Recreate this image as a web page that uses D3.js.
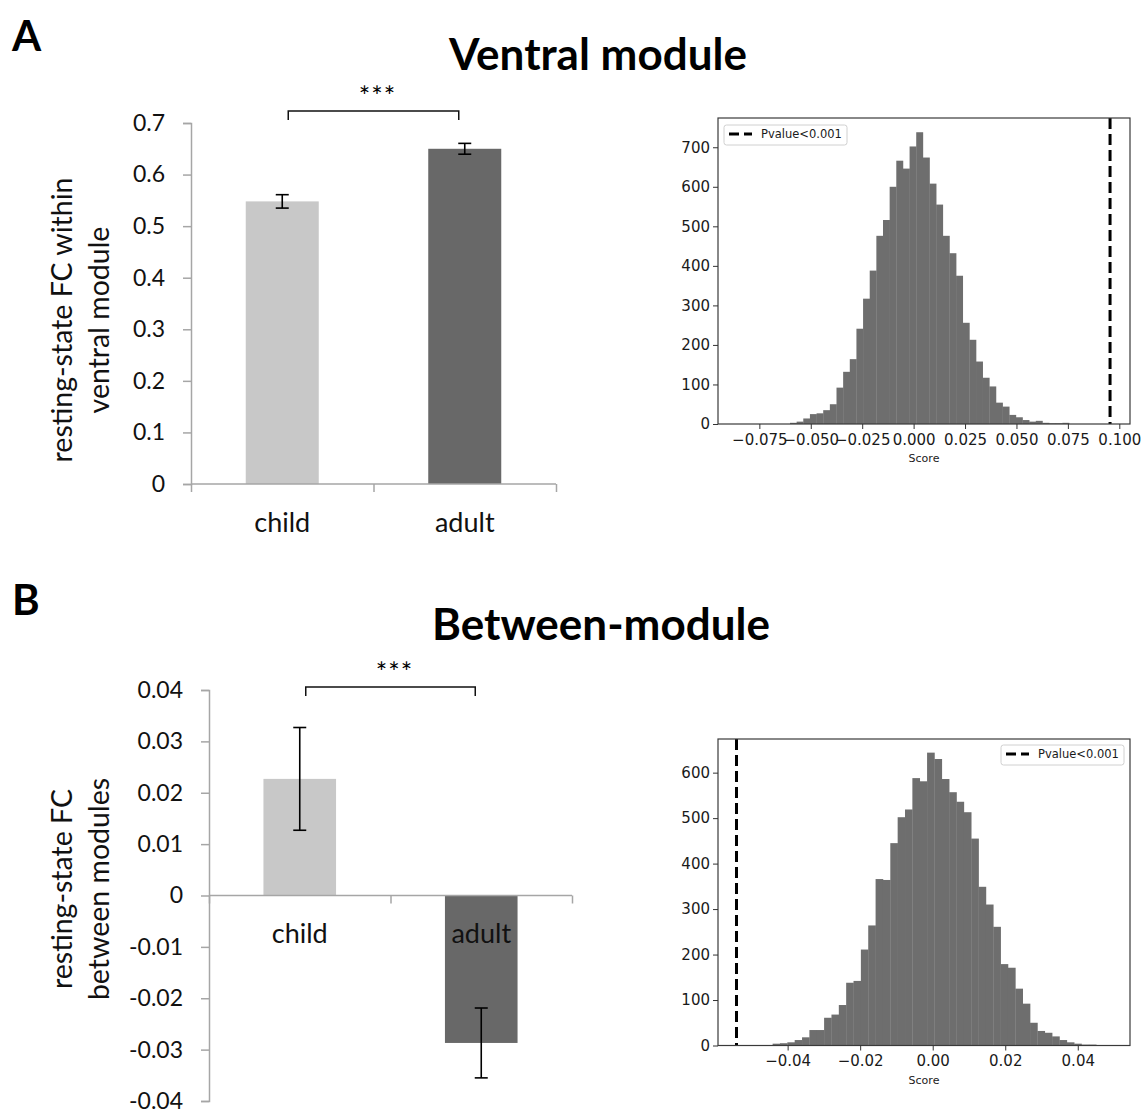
<!DOCTYPE html>
<html>
<head>
<meta charset="utf-8">
<script src="https://cdn.jsdelivr.net/npm/d3@7"></script>
<style>
  body { margin: 0; background: #fff; }
  svg { display: block; }
</style>
</head>
<body>
<script>
'use strict';

// ---- group means (bar charts) ----
const groups = ["child", "adult"];
const ventralMean = [0.548, 0.650];
const ventralErr = [0.013, 0.0105];
const ventralTicks = [0, 0.1, 0.2, 0.3, 0.4, 0.5, 0.6, 0.7];

const betweenMean = [0.0227, -0.0287];
const betweenErr = [0.0100, 0.0068];
const betweenTicks = [-0.04, -0.03, -0.02, -0.01, 0, 0.01, 0.02, 0.03, 0.04];

// ---- permutation histograms (counts per bin) ----
const ventralCounts = [3, 6, 14, 25, 27, 35, 50, 92, 132, 164, 241, 317, 388, 476, 516, 600,
  666, 646, 702, 738, 674, 608, 555, 476, 432, 375, 256, 213, 158, 117, 95, 54, 44, 23, 17,
  10, 6, 8, 3, 2, 2, 3];
const ventralBinStart = -0.0601;
const ventralBinWidth = 0.00323;
const ventralObserved = 0.0955;
const ventralScoreTicks = [-0.075, -0.05, -0.025, 0, 0.025, 0.05, 0.075, 0.1];
const ventralCountTicks = [0, 100, 200, 300, 400, 500, 600, 700];

const betweenCounts = [4, 5, 7, 12, 18, 34, 34, 61, 68, 89, 138, 142, 211, 264, 366, 364,
  445, 502, 519, 588, 581, 644, 630, 586, 557, 536, 513, 455, 349, 310, 261, 179, 171, 125,
  92, 50, 32, 28, 20, 12, 7, 4, 2, 2];
const betweenBinStart = -0.04414;
const betweenBinWidth = 0.002028;
const betweenObserved = -0.0541;
const betweenScoreTicks = [-0.04, -0.02, 0, 0.02, 0.04];
const betweenCountTicks = [0, 100, 200, 300, 400, 500, 600];

const W = 1146, H = 1115;
const svg = d3.select("body").append("svg")
    .attr("width", W)
    .attr("height", H);

const barFont = "Lato, 'Open Sans', sans-serif";
const mplFont = "'DejaVu Sans', sans-serif";
const barColors = ["#c8c8c8", "#686868"];
const axisGray = "#a6a6a6";

// panel letters and titles
svg.append("text").attr("x", 12).attr("y", 51)
    .style("font", "bold 42px " + barFont).text("A");
svg.append("text").attr("x", 598).attr("y", 70).attr("text-anchor", "middle")
    .style("font", "bold 44px " + barFont).text("Ventral module");
svg.append("text").attr("x", 12).attr("y", 615)
    .style("font", "bold 42px " + barFont).text("B");
svg.append("text").attr("x", 601).attr("y", 640).attr("text-anchor", "middle")
    .style("font", "bold 44px " + barFont).text("Between-module");

function excelFmt(digits) {
  return (d) => d === 0 ? "0" : (d < 0 ? "-" : "") + Math.abs(d).toFixed(digits);
}

function barChart(o) {
  const g = svg.append("g");
  const y = d3.scaleLinear().domain(o.domain).range([o.bottom, o.top]);
  const x = d3.scaleBand().domain(groups).range([o.left, o.right])
      .paddingInner(0.6).paddingOuter(0.3);
  const slot = d3.scaleLinear().domain([0, groups.length]).range([o.left, o.right]);

  // y axis
  const ya = g.append("g").attr("transform", `translate(${o.left},0)`)
      .call(d3.axisLeft(y).tickValues(o.ticks).tickSize(8).tickPadding(18)
        .tickFormat(excelFmt(o.digits)));
  ya.selectAll("path, line").attr("stroke", axisGray).attr("stroke-width", 1.5);
  ya.selectAll("text").style("font", "23px " + barFont).attr("fill", "#111");

  // bars
  g.selectAll("rect.bar").data(o.means).join("rect")
      .attr("class", "bar")
      .attr("x", (d, i) => x(groups[i]))
      .attr("width", x.bandwidth())
      .attr("y", (d) => y(Math.max(0, d)))
      .attr("height", (d) => Math.abs(y(d) - y(0)))
      .attr("fill", (d, i) => barColors[i]);

  // x axis at zero
  const xa = g.append("g").attr("transform", `translate(0,${y(0)})`)
      .call(d3.axisBottom(slot).tickValues([0, 1, 2]).tickSize(8).tickFormat(""));
  xa.selectAll("path, line").attr("stroke", axisGray).attr("stroke-width", 1.5);
  xa.select(".domain").attr("d", `M${o.left},0H${o.right}`);

  // error bars
  const eb = g.selectAll("g.err").data(o.means).join("g").attr("class", "err");
  const cx = (i) => x(groups[i]) + x.bandwidth() / 2;
  eb.append("line")
      .attr("x1", (d, i) => cx(i)).attr("x2", (d, i) => cx(i))
      .attr("y1", (d, i) => y(d + o.errs[i])).attr("y2", (d, i) => y(d - o.errs[i]));
  eb.append("line")
      .attr("x1", (d, i) => cx(i) - 6.5).attr("x2", (d, i) => cx(i) + 6.5)
      .attr("y1", (d, i) => y(d + o.errs[i])).attr("y2", (d, i) => y(d + o.errs[i]));
  eb.append("line")
      .attr("x1", (d, i) => cx(i) - 6.5).attr("x2", (d, i) => cx(i) + 6.5)
      .attr("y1", (d, i) => y(d - o.errs[i])).attr("y2", (d, i) => y(d - o.errs[i]));
  eb.selectAll("line").attr("stroke", "#000").attr("stroke-width", 1.6);

  // category labels
  g.selectAll("text.cat").data(groups).join("text")
      .attr("class", "cat")
      .attr("x", (d) => x(d) + x.bandwidth() / 2)
      .attr("y", y(0) + o.catDy)
      .attr("text-anchor", "middle")
      .style("font", "27px " + barFont)
      .attr("fill", "#111")
      .text((d) => d);

  // significance bracket
  const bx0 = cx(0) + 6, bx1 = cx(1) - 6;
  g.append("path")
      .attr("d", `M${bx0},${o.bracketY + 9}V${o.bracketY}H${bx1}V${o.bracketY + 9}`)
      .attr("fill", "none").attr("stroke", "#111").attr("stroke-width", 1.5);
  g.append("text")
      .attr("x", (bx0 + bx1) / 2 + 4).attr("y", o.bracketY - 5)
      .attr("text-anchor", "middle")
      .style("font", "27px " + barFont)
      .style("letter-spacing", "1px")
      .text("***");

  // y axis title (two lines)
  const t = g.append("text")
      .attr("transform", `translate(${o.titleX},${o.titleY}) rotate(-90)`)
      .attr("text-anchor", "middle")
      .style("font", "28.5px " + barFont)
      .attr("fill", "#111");
  t.append("tspan").attr("x", 0).attr("y", 0).text(o.title[0]);
  t.append("tspan").attr("x", 0).attr("y", 37).text(o.title[1]);
}

barChart({
  means: ventralMean, errs: ventralErr, ticks: ventralTicks, digits: 1,
  domain: [0, 0.7], top: 123, bottom: 484, left: 191, right: 556,
  catDy: 48, bracketY: 111,
  title: ["resting-state FC within", "ventral module"], titleX: 72, titleY: 320
});

barChart({
  means: betweenMean, errs: betweenErr, ticks: betweenTicks, digits: 2,
  domain: [-0.04, 0.04], top: 690, bottom: 1101, left: 209, right: 572,
  catDy: 47, bracketY: 687,
  title: ["resting-state FC", "between modules"], titleX: 72, titleY: 889
});

function histogram(o) {
  const g = svg.append("g");
  const x = d3.scaleLinear().domain(o.xDomain).range([718, 1130]);
  const y = d3.scaleLinear().domain([0, o.yMax]).range([o.bottom, o.top]);

  const bins = o.counts.map((c, i) => ({
    x0: o.binStart + i * o.binWidth,
    x1: o.binStart + (i + 1) * o.binWidth,
    n: c
  }));

  g.selectAll("rect.bin").data(bins).join("rect")
      .attr("class", "bin")
      .attr("x", (d) => x(d.x0))
      .attr("width", (d) => x(d.x1) - x(d.x0) + 0.3)
      .attr("y", (d) => y(d.n))
      .attr("height", (d) => y(0) - y(d.n))
      .attr("fill", "#6e6e6e");

  // observed score
  g.append("line")
      .attr("x1", x(o.observed)).attr("x2", x(o.observed))
      .attr("y1", o.top).attr("y2", o.bottom)
      .attr("stroke", "#000").attr("stroke-width", 3)
      .attr("stroke-dasharray", "11,5");

  // frame
  g.append("rect")
      .attr("x", 718).attr("y", o.top)
      .attr("width", 412).attr("height", o.bottom - o.top)
      .attr("fill", "none").attr("stroke", "#3a3a3a").attr("stroke-width", 1.2);

  const xa = g.append("g").attr("transform", `translate(0,${o.bottom})`)
      .call(d3.axisBottom(x).tickValues(o.xTicks).tickSize(5).tickPadding(5)
        .tickFormat(d3.format(o.xFmt)));
  const ya = g.append("g").attr("transform", "translate(718,0)")
      .call(d3.axisLeft(y).tickValues(o.yTicks).tickSize(5).tickPadding(3));
  [xa, ya].forEach((a) => {
    a.select(".domain").remove();
    a.selectAll("line").attr("stroke", "#333");
    a.selectAll("text").style("font", "15px " + mplFont).attr("fill", "#1a1a1a");
  });

  g.append("text")
      .attr("x", 924).attr("y", o.bottom + 38)
      .attr("text-anchor", "middle")
      .style("font", "11px " + mplFont).attr("fill", "#1a1a1a")
      .text("Score");

  // legend
  const lg = g.append("g").attr("transform", `translate(${o.legendX},${o.legendY})`);
  lg.append("rect")
      .attr("width", 123).attr("height", 20).attr("rx", 2.5)
      .attr("fill", "#fff").attr("fill-opacity", 0.8)
      .attr("stroke", "#d0d0d0").attr("stroke-width", 1);
  lg.append("line")
      .attr("x1", 5).attr("x2", 28).attr("y1", 9).attr("y2", 9)
      .attr("stroke", "#000").attr("stroke-width", 3)
      .attr("stroke-dasharray", "10,5");
  lg.append("text")
      .attr("x", 37).attr("y", 13)
      .style("font", "11.5px " + mplFont).attr("fill", "#1a1a1a")
      .text("Pvalue<0.001");
}

histogram({
  counts: ventralCounts, binStart: ventralBinStart, binWidth: ventralBinWidth,
  observed: ventralObserved, xDomain: [-0.0951, 0.1052], yMax: 774,
  top: 118, bottom: 424, xTicks: ventralScoreTicks, yTicks: ventralCountTicks,
  xFmt: ".3f", legendX: 724, legendY: 125
});

histogram({
  counts: betweenCounts, binStart: betweenBinStart, binWidth: betweenBinWidth,
  observed: betweenObserved, xDomain: [-0.0592, 0.0544], yMax: 674,
  top: 739, bottom: 1045.5, xTicks: betweenScoreTicks, yTicks: betweenCountTicks,
  xFmt: ".2f", legendX: 1001, legendY: 745
});
</script>
</body>
</html>
